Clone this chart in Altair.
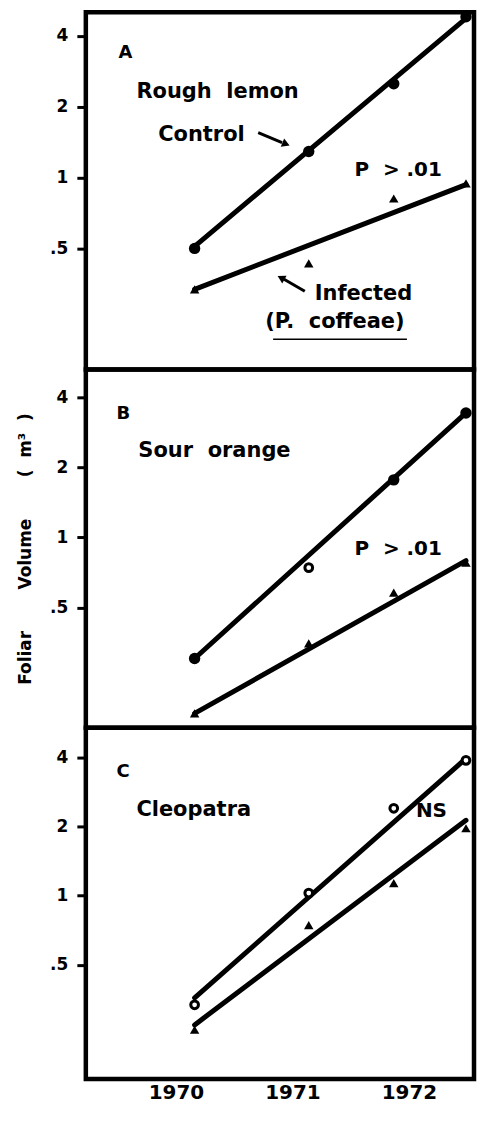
import altair as alt
import pandas as pd

FONT = "DejaVu Sans"
NB = "\u00a0"

# measurement dates (fractional years) and fitted-line end dates
years = [1970.16, 1971.14, 1971.87, 1972.49]
fit_years = [1970.16, 1972.49]

# Panel A - Rough lemon
a_control = [0.500, 1.29, 2.505, 4.82]
a_control_style = ["filled", "filled", "filled", "filled"]
a_infected = [0.335, 0.432, 0.815, 0.944]
a_control_fit = [0.51, 4.75]
a_infected_fit = [0.335, 0.934]

# Panel B - Sour orange
b_control = [0.3025, 0.742, 1.766, 3.417]
b_control_style = ["filled", "open", "filled", "filled"]
b_infected = [0.176, 0.351, 0.580, 0.779]
b_control_fit = [0.3025, 3.42]
b_infected_fit = [0.176, 0.795]

# Panel C - Cleopatra
c_control = [0.335, 1.026, 2.40, 3.88]
c_control_style = ["open", "open", "open", "open"]
c_infected = [0.261, 0.745, 1.134, 1.965]
c_control_fit = [0.359, 3.955]
c_infected_fit = [0.274, 2.128]

# annotation text (label, year, value, font size)
a_text = ["A", "Rough" + NB * 2 + "lemon", "Control", "P" + NB * 2 + ">" + NB + ".01",
          "Infected", "(P." + NB * 2 + "coffeae)"]
a_text_x = [1969.506, 1969.66, 1969.847, 1971.532, 1971.191, 1970.766]
a_text_y = [3.39, 2.317, 1.523, 1.082, 0.3194, 0.2429]
a_text_size = [18, 21, 21, 20, 21, 21]

b_text = ["B", "Sour" + NB * 2 + "orange", "P" + NB * 2 + ">" + NB + ".01"]
b_text_x = [1969.489, 1969.677, 1971.532]
b_text_y = [3.384, 2.35, 0.894]
b_text_size = [18, 21, 20]

c_text = ["C", "Cleopatra", "NS"]
c_text_x = [1969.489, 1969.66, 1972.06]
c_text_y = [3.44, 2.352, 2.33]
c_text_size = [18, 21, 20]

# arrows in panel A: tail -> shaft end, head position, head shape, rotation
arrow_x = [1970.706, 1971.106]
arrow_x2 = [1970.911, 1970.928]
arrow_y = [1.553, 0.3288]
arrow_y2 = [1.408, 0.3696]
head_x = [1970.945, 1970.902]
head_y = [1.388, 0.375]
head_shape = ["triangle-right", "triangle-left"]
head_angle = [22, 29]

# underline of "P. coffeae"
underline_x = [1970.834]
underline_x2 = [1971.983]
underline_y = [0.2058]

Y_TITLE = "Foliar" + NB * 7 + "Volume" + NB * 7 + "(" + NB * 2 + "m\u00b3" + NB * 2 + ")"

X_DOMAIN = [1969.226, 1972.559]
A_DOMAIN = [0.1531, 5.044]
B_DOMAIN = [0.1528, 5.259]
C_DOMAIN = [0.1595, 5.386]
WIDTH = 389


def panel(ctrl, ctrl_style, inf, ctrl_fit, inf_fit, texts, tx, ty, tsize,
          height, ydomain, show_x=False, title=None, arrows=False):
    if show_x:
        xaxis = alt.Axis(values=[1970, 1971, 1972], format="d", ticks=False,
                         domain=False, grid=False, labelFont=FONT,
                         labelFontSize=20, labelFontWeight="bold",
                         labelColor="black", labelPadding=4, title=None)
    else:
        xaxis = None
    xs = alt.Scale(domain=X_DOMAIN, nice=False, zero=False)
    ys = alt.Scale(type="log", domain=ydomain, nice=False)
    yaxis = alt.Axis(values=[0.5, 1, 2, 4],
                     labelExpr="datum.value < 1 ? '.5' : format(datum.value, 'd')",
                     grid=False, domain=False, tickColor="black", tickWidth=3,
                     tickSize=9, labelPadding=9, labelFont=FONT, labelFontSize=17,
                     labelFontWeight="bold", labelColor="black",
                     title=title, titleFont=FONT, titleFontSize=17,
                     titleFontWeight="bold", titleColor="black", titlePadding=15)
    X = alt.X("year:Q", scale=xs, axis=xaxis)
    Y = alt.Y("value:Q", scale=ys, axis=yaxis)

    pts = pd.DataFrame({
        "year": years * 2,
        "value": ctrl + inf,
        "kind": ctrl_style + ["tri"] * len(inf),
    })
    fits = pd.DataFrame({
        "year": fit_years * 2,
        "value": ctrl_fit + inf_fit,
        "series": ["control"] * 2 + ["infected"] * 2,
    })
    tdf = pd.DataFrame({"year": tx, "value": ty, "label": texts, "fs": tsize})

    lines = alt.Chart(fits).mark_line(color="black", strokeWidth=5, strokeCap="round",
                                      clip=True).encode(
        x=X, y=Y, detail="series:N")
    filled = alt.Chart(pts).transform_filter("datum.kind == 'filled'").mark_point(
        shape="circle", filled=True, color="black", size=130, opacity=1,
        clip=True).encode(x=X, y=Y)
    opened = alt.Chart(pts).transform_filter("datum.kind == 'open'").mark_point(
        shape="circle", fill="white", stroke="black", strokeWidth=3, size=60,
        opacity=1, fillOpacity=1, clip=True).encode(x=X, y=Y)
    tris = alt.Chart(pts).transform_filter("datum.kind == 'tri'").mark_point(
        shape="triangle-up", filled=True, color="black", size=90, opacity=1,
        clip=True).encode(x=X, y=Y)
    txt = alt.Chart(tdf).mark_text(align="left", baseline="middle", font=FONT,
                                   fontWeight="bold", color="black").encode(
        x=X, y=Y, text="label:N", size=alt.Size("fs:Q", scale=None, legend=None))
    layers = [lines, filled, opened, tris, txt]
    if arrows:
        adf = pd.DataFrame({"year": arrow_x, "year2": arrow_x2,
                            "value": arrow_y, "value2": arrow_y2})
        hdf = pd.DataFrame({"year": head_x, "value": head_y,
                            "shape": head_shape, "ang": head_angle})
        udf = pd.DataFrame({"year": underline_x, "year2": underline_x2,
                            "value": underline_y})
        layers.append(alt.Chart(adf).mark_rule(color="black", strokeWidth=3).encode(
            x=X, x2="year2:Q", y=Y, y2="value2:Q"))
        layers.append(alt.Chart(hdf).mark_point(filled=True, color="black", size=80,
                                                opacity=1).encode(
            x=X, y=Y, shape=alt.Shape("shape:N", scale=None, legend=None),
            angle=alt.Angle("ang:Q", scale=None)))
        layers.append(alt.Chart(udf).mark_rule(color="black", strokeWidth=1.5).encode(
            x=X, x2="year2:Q", y=Y))
    return alt.layer(*layers).properties(width=WIDTH, height=height)


pa = panel(a_control, a_control_style, a_infected, a_control_fit, a_infected_fit,
           a_text, a_text_x, a_text_y, a_text_size, 358, A_DOMAIN, arrows=True)
pb = panel(b_control, b_control_style, b_infected, b_control_fit, b_infected_fit,
           b_text, b_text_x, b_text_y, b_text_size, 359, B_DOMAIN, title=Y_TITLE)
pc = panel(c_control, c_control_style, c_infected, c_control_fit, c_infected_fit,
           c_text, c_text_x, c_text_y, c_text_size, 352, C_DOMAIN, show_x=True)

chart = alt.vconcat(pa, pb, pc, spacing=0, bounds="flush").properties(
    padding={"left": 6, "top": 0, "right": 0, "bottom": 0},
    background="white",
).configure_view(stroke="black", strokeWidth=4.5)

chart.save("out.html", embed_options={"renderer": "svg", "actions": False})
